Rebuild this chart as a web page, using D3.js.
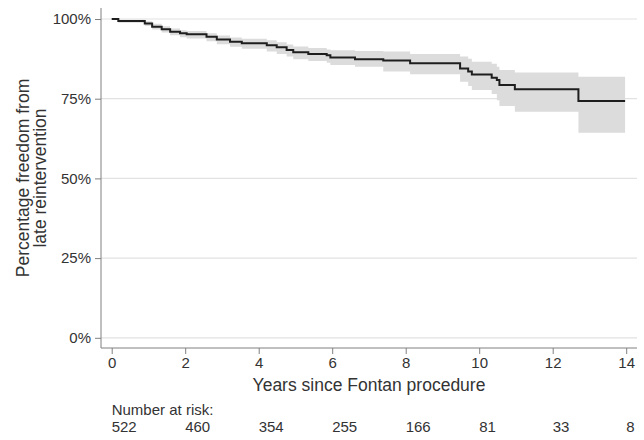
<!DOCTYPE html>
<html>
<head>
<meta charset="utf-8">
<script src="https://cdn.jsdelivr.net/npm/d3@7"></script>
<style>
  body { margin: 0; background: #fff; }
  svg { display: block; font-family: "Liberation Sans", Arial, Helvetica, sans-serif; }
</style>
</head>
<body>
<div id="chart"></div>
<script>
// Kaplan-Meier estimate, years and percent
var times    = [0, 0.18, 0.9, 1.1, 1.36, 1.59, 1.86, 2.04, 2.58, 2.86, 3.22, 3.54, 4.22, 4.49, 4.76, 4.94, 5.35, 5.85, 5.95, 6.62, 7.39, 8.12, 9.48, 9.7, 9.8, 10.34, 10.48, 10.55, 10.97, 12.7, 13.97];
var survival = [100, 99.4, 98.6, 97.6, 96.8, 96.0, 95.5, 95.2, 94.4, 93.6, 92.9, 92.4, 91.8, 91.1, 90.3, 89.6, 89.0, 88.6, 87.9, 87.4, 87.0, 86.1, 84.5, 83.5, 82.6, 81.6, 80.9, 79.3, 78.0, 74.3, 74.3];
var lower    = [100, 98.8, 97.8, 96.7, 95.8, 94.9, 94.3, 93.9, 93.0, 92.1, 91.3, 90.7, 89.8, 89.0, 88.2, 87.4, 86.8, 86.3, 85.6, 85.0, 83.5, 82.7, 80.3, 79.0, 77.7, 76.5, 74.5, 72.7, 70.9, 64.3, 64.3];
var upper    = [100, 99.8, 99.3, 98.5, 97.7, 97.0, 96.5, 96.2, 95.5, 94.8, 94.2, 93.8, 93.3, 92.7, 92.0, 91.4, 90.9, 90.4, 90.2, 90.0, 89.8, 89.0, 88.2, 87.5, 86.6, 86.0, 85.0, 84.0, 83.2, 81.9, 81.9];

// Number-at-risk table
var riskTimes = [0, 2, 4, 6, 8, 10, 12, 14];
var atRisk    = [522, 460, 354, 255, 166, 81, 33, 8];

var yTicks = [0, 25, 50, 75, 100];
var xTicks = [0, 2, 4, 6, 8, 10, 12, 14];

var width = 644, height = 440;
var axisX = 101, axisY = 348;
var plotRight = 637, plotTop = 8;

var svg = d3.select("#chart").append("svg")
  .attr("width", width)
  .attr("height", height);

var x = d3.scaleLinear().domain([0, 14]).range([111.7, 626.2]);
var y = d3.scaleLinear().domain([0, 100]).range([337.8, 19]);

var km = times.map(function(t, i) {
  return { t: t, s: survival[i], lo: lower[i], hi: upper[i] };
});

// Gridlines
svg.append("g")
  .selectAll("line")
  .data(yTicks)
  .enter().append("line")
    .attr("x1", axisX)
    .attr("x2", plotRight)
    .attr("y1", function(d) { return y(d); })
    .attr("y2", function(d) { return y(d); })
    .attr("stroke", "#e2e2e2")
    .attr("stroke-width", 1.2);

// Confidence band
var band = d3.area()
  .curve(d3.curveStepAfter)
  .x(function(d) { return x(d.t); })
  .y0(function(d) { return y(d.lo); })
  .y1(function(d) { return y(d.hi); });

svg.append("path")
  .datum(km)
  .attr("d", band)
  .attr("fill", "#dcdcdc");

// Survival curve
var line = d3.line()
  .curve(d3.curveStepAfter)
  .x(function(d) { return x(d.t); })
  .y(function(d) { return y(d.s); });

svg.append("path")
  .datum(km)
  .attr("d", line)
  .attr("fill", "none")
  .attr("stroke", "#1e1e1e")
  .attr("stroke-width", 2);

// Y axis
var yAxis = svg.append("g")
  .attr("transform", "translate(" + axisX + ",0)")
  .call(d3.axisLeft(y).tickValues(yTicks).tickSize(6).tickPadding(4)
    .tickFormat(function(d) { return d + "%"; }));
yAxis.select(".domain").remove();
yAxis.append("line")
  .attr("y1", plotTop).attr("y2", axisY)
  .attr("stroke", "#808080");

// X axis
var xAxis = svg.append("g")
  .attr("transform", "translate(0," + axisY + ")")
  .call(d3.axisBottom(x).tickValues(xTicks).tickSize(6).tickPadding(3));
xAxis.select(".domain").remove();
xAxis.append("line")
  .attr("x1", axisX).attr("x2", plotRight)
  .attr("stroke", "#808080");

svg.selectAll(".tick line").attr("stroke", "#808080");
svg.selectAll(".tick text")
  .attr("fill", "#333")
  .style("font-size", "15px")
  .style("font-family", "'Liberation Sans', Arial, sans-serif");

// Axis titles
svg.append("text")
  .attr("x", (axisX + plotRight) / 2 + 0)
  .attr("y", 391)
  .attr("text-anchor", "middle")
  .attr("fill", "#333")
  .style("font-size", "17.5px")
  .text("Years since Fontan procedure");

var yTitle = svg.append("text")
  .attr("transform", "translate(29,178) rotate(-90)")
  .attr("text-anchor", "middle")
  .attr("fill", "#333")
  .style("font-size", "17.5px");
yTitle.append("tspan").attr("x", 0).attr("dy", 0).text("Percentage freedom from");
yTitle.append("tspan").attr("x", 0).attr("dy", 16.5).text("late reintervention");

// Number at risk
svg.append("text")
  .attr("x", x(0))
  .attr("y", 415)
  .attr("fill", "#333")
  .style("font-size", "15px")
  .text("Number at risk:");

svg.append("g")
  .selectAll("text")
  .data(atRisk)
  .enter().append("text")
    .attr("x", function(d, i) { return x(riskTimes[i]); })
    .attr("y", 432)
    .attr("fill", "#333")
    .style("font-size", "15px")
    .text(function(d) { return d; });
</script>
</body>
</html>
